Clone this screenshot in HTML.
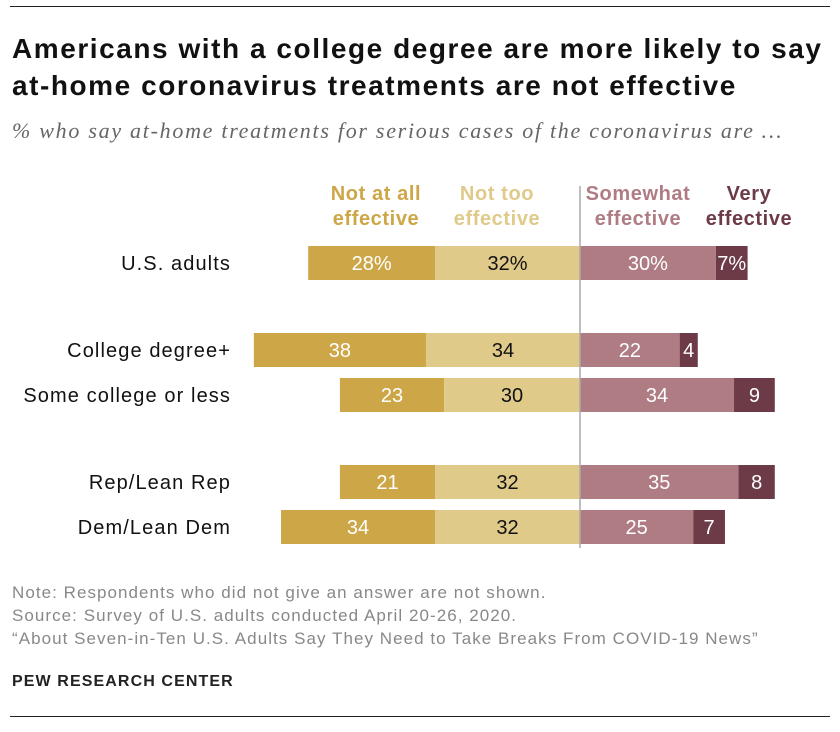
<!DOCTYPE html>
<html><head><meta charset="utf-8"><style>
body{margin:0;background:#fff;font-family:"Liberation Sans",Arial,sans-serif;}
#wrap{position:relative;width:840px;height:732px;overflow:hidden;}
.t{position:absolute;white-space:nowrap;}
</style></head><body>
<div id="wrap">
<div class="t" style="left:10px;top:6px;width:820px;height:1px;background:#222"></div>
<div class="t" style="left:12px;top:30px;font-size:28px;letter-spacing:1.55px;font-weight:bold;line-height:37px;color:#111">Americans with a college degree are more likely to say<br>at-home coronavirus treatments are not effective</div>
<div class="t" style="left:12px;top:118px;font-size:22px;letter-spacing:1.72px;font-style:italic;color:#666;font-family:'Liberation Serif',serif">% who say at-home treatments for serious cases of the coronavirus are …</div>
<svg id="chart" width="840" height="732" style="position:absolute;left:0;top:0"></svg>
<div class="t" style="left:12px;top:581px;font-size:17px;letter-spacing:1.05px;line-height:23px;color:#888">Note: Respondents who did not give an answer are not shown.<br>Source: Survey of U.S. adults conducted April 20-26, 2020.<br>“About Seven-in-Ten U.S. Adults Say They Need to Take Breaks From COVID-19 News”</div>
<div class="t" style="left:12px;top:673px;font-size:16px;letter-spacing:1.1px;font-weight:bold;color:#222">PEW RESEARCH CENTER</div>
<div class="t" style="left:10px;top:716px;width:820px;height:1px;background:#222"></div>
</div>
<script>
const categories=["U.S. adults","College degree+","Some college or less","Rep/Lean Rep","Dem/Lean Dem"];
const notAtAll=[28,38,23,21,34];
const notToo=[32,34,30,32,32];
const somewhat=[30,22,34,35,25];
const very=[7,4,9,8,7];
const seriesNames=["Not at all effective","Not too effective","Somewhat effective","Very effective"];
const rowY=[263,350,395,482,527];
const CX=580,SC=4.53,BH=34;
const x=v=>CX+v*SC;
const svg=document.getElementById('chart');
const NS='http://www.w3.org/2000/svg';
function mk(t,a){const e=document.createElementNS(NS,t);for(const k in a)e.setAttribute(k,a[k]);svg.appendChild(e);return e;}
const cols=["#CDA747","#E0CA8A","#B07C84","#6C3B47"];
const tcols=["#fff","#111","#fff","#fff"];
const lx=[376,497,638,749];
const lab=[["Not at all","effective"],["Not too","effective"],["Somewhat","effective"],["Very","effective"]];
lab.forEach((l,i)=>{const t=mk('text',{x:lx[i],y:200,'text-anchor':'middle','font-size':20,'letter-spacing':0.6,'font-weight':'bold',fill:cols[i],'font-family':'Liberation Sans, sans-serif'});


t.innerHTML=`<tspan x="${lx[i]}">${l[0]}</tspan><tspan x="${lx[i]}" dy="25">${l[1]}</tspan>`;});
categories.forEach((c,i)=>{
 const y=rowY[i];
 const t=mk('text',{x:231,y:y+7,'text-anchor':'end','font-size':20,'letter-spacing':1.1,fill:'#111','font-family':'Liberation Sans, sans-serif'});
 
 
 t.textContent=c;
 const segs=[[-notAtAll[i]-notToo[i],-notToo[i],notAtAll[i]],[-notToo[i],0,notToo[i]],[0,somewhat[i],somewhat[i]],[somewhat[i],somewhat[i]+very[i],very[i]]];
 segs.forEach((s,j)=>{
  const r=mk('rect',{x:x(s[0]),y:y-BH/2,width:x(s[1])-x(s[0]),height:BH,fill:cols[j]});
  
  
  const v=mk('text',{x:(x(s[0])+x(s[1]))/2,y:y+7,'text-anchor':'middle','font-size':20,fill:tcols[j],'font-family':'Liberation Sans, sans-serif'});
  
  
  v.textContent=s[2]+(i===0?'%':'');
 });
});
const ln=mk('line',{x1:CX,x2:CX,y1:186,y2:548,stroke:'#aaa','stroke-width':1.5});


</script>
</body></html>
